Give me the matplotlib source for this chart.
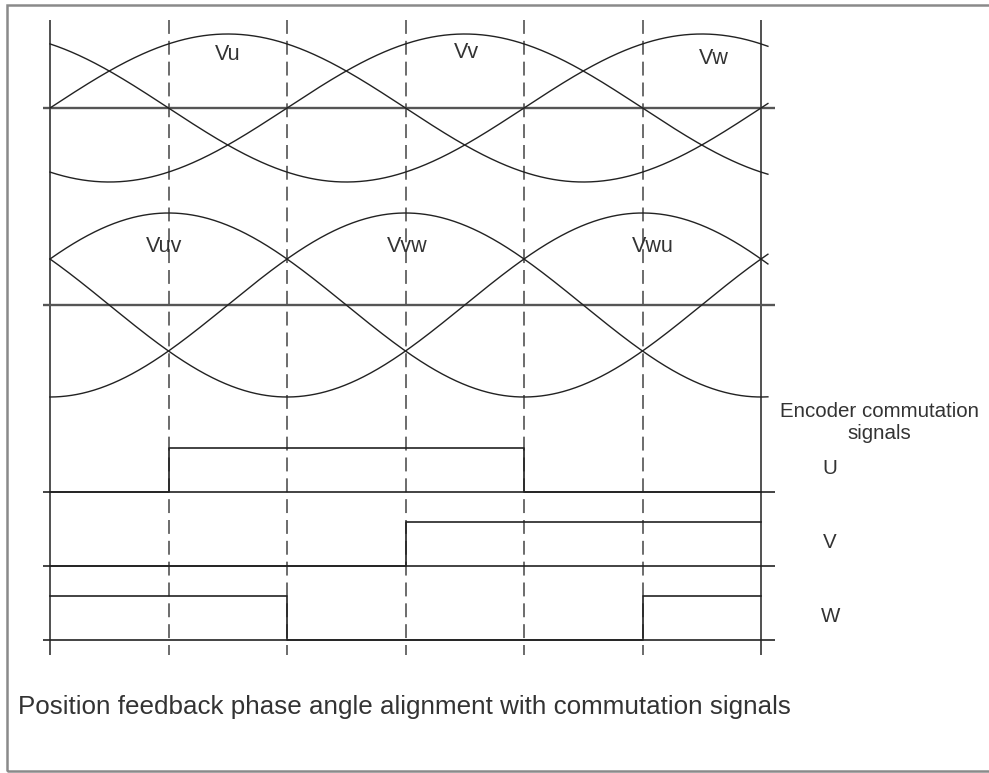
import numpy as np
import matplotlib.pyplot as plt
from matplotlib.patches import Rectangle

plt.rcParams['font.family'] = ['Liberation Sans', 'DejaVu Sans']
plt.rcParams['lines.scale_dashes'] = False

# phase voltages: name, phase shift (deg), label position
phase_names = ['Vu', 'Vv', 'Vw']
phase_shift = [0, 120, 240]
phase_label_deg = [90, 211, 336]
phase_label_y = [55, 53, 58]

# line-to-line voltages
line_names = ['Vuv', 'Vvw', 'Vwu']
line_shift = [-30, 90, 210]
line_label_deg = [58, 181, 305]

# encoder commutation signals, one state per 60 deg sector
sector_edges = [0, 60, 120, 180, 240, 300, 360]
hall_names = ['U', 'V', 'W']
u_states = [0, 1, 1, 1, 0, 0]
v_states = [0, 0, 0, 1, 1, 1]
w_states = [1, 1, 0, 0, 0, 1]

ink = '#222222'
grey = '#555555'
txt = '#333333'
fs = 14.8

# layout (pixels, y downwards)
W, H = 989, 773
x0_px = 50
px_per_deg = 711 / 360
top_base, top_amp = 108, 74
mid_base, mid_amp = 305, 92
hall_base = [492, 566, 640]
hall_high = 44

fig = plt.figure(figsize=(W / 100, H / 100), dpi=100)
ax = fig.add_axes([0, 0, 1, 1])
ax.set_xlim(-x0_px / px_per_deg, (W - x0_px) / px_per_deg)
ax.set_ylim(H, 0)
ax.axis('off')

# outer frame (right side is outside the picture)
fig.add_artist(Rectangle((7 / W, 2 / H), 1.0, (H - 7) / H, transform=fig.transFigure,
                         fill=False, edgecolor='#8a8a8a', lw=1.8))

# vertical reference lines
ax.vlines([0, 360], 20, 655, color=ink, lw=1.1)
ax.vlines(sector_edges[1:-1], 20, 655, color='#444444', lw=1.1, linestyles=[(0, (10, 5))])

# baselines
ax.hlines([top_base, mid_base], -3.5, 367, color=grey, lw=1.7)
ax.hlines(hall_base, -3.5, 367, color=ink, lw=1.2)

theta = np.linspace(0, 363.5, 800)
for name, shift, lx, ly in zip(phase_names, phase_shift, phase_label_deg, phase_label_y):
    ax.plot(theta, top_base - top_amp * np.sin(np.radians(theta - shift)), color=ink, lw=1.0)
    ax.text(lx, ly, name, ha='center', va='center', fontsize=15.5, color=txt)

for name, shift, lx in zip(line_names, line_shift, line_label_deg):
    ax.plot(theta, mid_base - mid_amp * np.sin(np.radians(theta - shift)), color=ink, lw=1.0)
    ax.text(lx, 247, name, ha='center', va='center', fontsize=15.5, color=txt)

xs = np.repeat(sector_edges, 2)[1:-1]
for name, states, base in zip(hall_names, [u_states, v_states, w_states], hall_base):
    ys = base - hall_high * np.repeat(states, 2)
    ax.plot(xs, ys, color=ink, lw=1.2)
    ax.text(395, base - 24, name, ha='center', va='center', fontsize=fs, color=txt)

ax.text(420, 422.5, 'Encoder commutation\nsignals', ha='center', va='center',
        fontsize=fs, color=txt, multialignment='center')

ax.text(-16.2, 707, 'Position feedback phase angle alignment with commutation signals',
        ha='left', va='center', fontsize=18.7, color=txt)

fig.savefig('out.png', dpi=100)
